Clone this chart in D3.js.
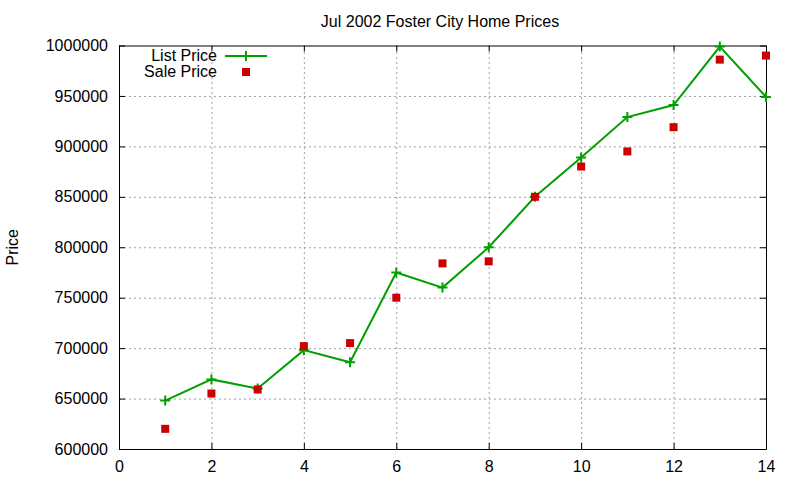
<!DOCTYPE html>
<html>
<head>
<meta charset="utf-8">
<script src="https://cdn.jsdelivr.net/npm/d3@7"></script>
<style>
  body { margin: 0; background: #fff; }
  text { font-family: "Liberation Sans", Arial, sans-serif; }
</style>
</head>
<body>
<div id="chart"></div>
<script>
const months = [1, 2, 3, 4, 5, 6, 7, 8, 9, 10, 11, 12, 13, 14];
const listPrice = [648000, 669000, 660000, 698000, 686000, 775000, 760000, 800000, 850000, 889000, 929000, 941000, 999000, 949000];
const salePrice = [620000, 655000, 659000, 702000, 705000, 750000, 784000, 786000, 850000, 880000, 895000, 919000, 986000, 990000];
const xTicks = [0, 2, 4, 6, 8, 10, 12, 14];
const yTicks = [600000, 650000, 700000, 750000, 800000, 850000, 900000, 950000, 1000000];
const seriesNames = ['List Price', 'Sale Price'];

drawChart();

function drawChart() {
  const width = 800;
  const height = 480;
  const pad = { top: 45.5, left: 119, right: 34, bottom: 31 };
  const listColor = '#00a000';
  const saleColor = '#cc0000';

  const svg = d3.select('#chart').append('svg')
      .attr('width', width)
      .attr('height', height);

  const x = d3.scaleLinear([0, 14], [pad.left, width - pad.right]);
  const y = d3.scaleLinear([600000, 1000000], [height - pad.bottom, pad.top]);

  // grid
  svg.append('g')
      .attr('transform', `translate(0, ${height - pad.bottom})`)
      .call(d3.axisBottom(x).tickValues(xTicks.slice(1, -1)).tickSize(-(height - pad.bottom - pad.top)).tickFormat(''))
      .call(g => g.select('.domain').remove())
      .call(g => g.selectAll('line').attr('stroke', '#a0a0a0').attr('stroke-dasharray', '2,3'));
  svg.append('g')
      .attr('transform', `translate(${pad.left}, 0)`)
      .call(d3.axisLeft(y).tickValues(yTicks.slice(1, -1)).tickSize(-(width - pad.left - pad.right)).tickFormat(''))
      .call(g => g.select('.domain').remove())
      .call(g => g.selectAll('line').attr('stroke', '#a0a0a0').attr('stroke-dasharray', '2,3'));

  // axes with inward ticks, mirrored
  const axisStyle = g => {
    g.select('.domain').attr('stroke', '#000').attr('stroke-width', 1);
    g.selectAll('.tick line').attr('stroke', '#000');
    g.selectAll('text').attr('font-size', 16).attr('fill', '#000')
        .style('font-family', '"Liberation Sans", Arial, sans-serif');
  };
  svg.append('g')
      .attr('transform', `translate(0, ${height - pad.bottom})`)
      .call(d3.axisBottom(x).tickValues(xTicks).tickSizeInner(-6).tickSizeOuter(0).tickPadding(12))
      .call(axisStyle);
  svg.append('g')
      .attr('transform', `translate(0, ${pad.top})`)
      .call(d3.axisTop(x).tickValues(xTicks).tickSizeInner(-6).tickSizeOuter(0).tickFormat(''))
      .call(axisStyle);
  svg.append('g')
      .attr('transform', `translate(${pad.left}, 0)`)
      .call(d3.axisLeft(y).tickValues(yTicks).tickSizeInner(-6).tickSizeOuter(0).tickPadding(11).tickFormat(d3.format('d')))
      .call(axisStyle);
  svg.append('g')
      .attr('transform', `translate(${width - pad.right}, 0)`)
      .call(d3.axisRight(y).tickValues(yTicks).tickSizeInner(-6).tickSizeOuter(0).tickFormat(''))
      .call(axisStyle);

  // title and axis label
  svg.append('text')
      .text('Jul 2002 Foster City Home Prices')
      .attr('x', 440)
      .attr('y', 27)
      .attr('text-anchor', 'middle')
      .attr('font-size', 16);
  svg.append('text')
      .text('Price')
      .attr('transform', `translate(18, ${(pad.top + height - pad.bottom) / 2}) rotate(-90)`)
      .attr('text-anchor', 'middle')
      .attr('font-size', 16);

  const listData = months.map((m, i) => [m, listPrice[i]]);
  const saleData = months.map((m, i) => [m, salePrice[i]]);

  const line = d3.line().x(d => x(d[0])).y(d => y(d[1]));
  svg.append('path')
      .datum(listData)
      .attr('d', line)
      .attr('fill', 'none')
      .attr('stroke', listColor)
      .attr('stroke-width', 2);

  const plus = 'M-5,0H5M0,-5V5';
  svg.append('g').selectAll('path')
      .data(listData)
      .join('path')
      .attr('d', plus)
      .attr('transform', d => `translate(${x(d[0])}, ${y(d[1])})`)
      .attr('stroke', listColor)
      .attr('stroke-width', 2);

  svg.append('g').selectAll('rect')
      .data(saleData)
      .join('rect')
      .attr('x', d => x(d[0]) - 4)
      .attr('y', d => y(d[1]) - 4)
      .attr('width', 8)
      .attr('height', 8)
      .attr('fill', saleColor);

  // legend
  const legend = svg.append('g');
  legend.append('text')
      .text(seriesNames[0])
      .attr('x', 217).attr('y', 61)
      .attr('text-anchor', 'end')
      .attr('font-size', 16);
  legend.append('line')
      .attr('x1', 225).attr('x2', 267).attr('y1', 56).attr('y2', 56)
      .attr('stroke', listColor).attr('stroke-width', 2);
  legend.append('path')
      .attr('d', plus)
      .attr('transform', 'translate(246, 56)')
      .attr('stroke', listColor).attr('stroke-width', 2);
  legend.append('text')
      .text(seriesNames[1])
      .attr('x', 217).attr('y', 77)
      .attr('text-anchor', 'end')
      .attr('font-size', 16);
  legend.append('rect')
      .attr('x', 242).attr('y', 68)
      .attr('width', 8).attr('height', 8)
      .attr('fill', saleColor);
}
</script>
</body>
</html>
